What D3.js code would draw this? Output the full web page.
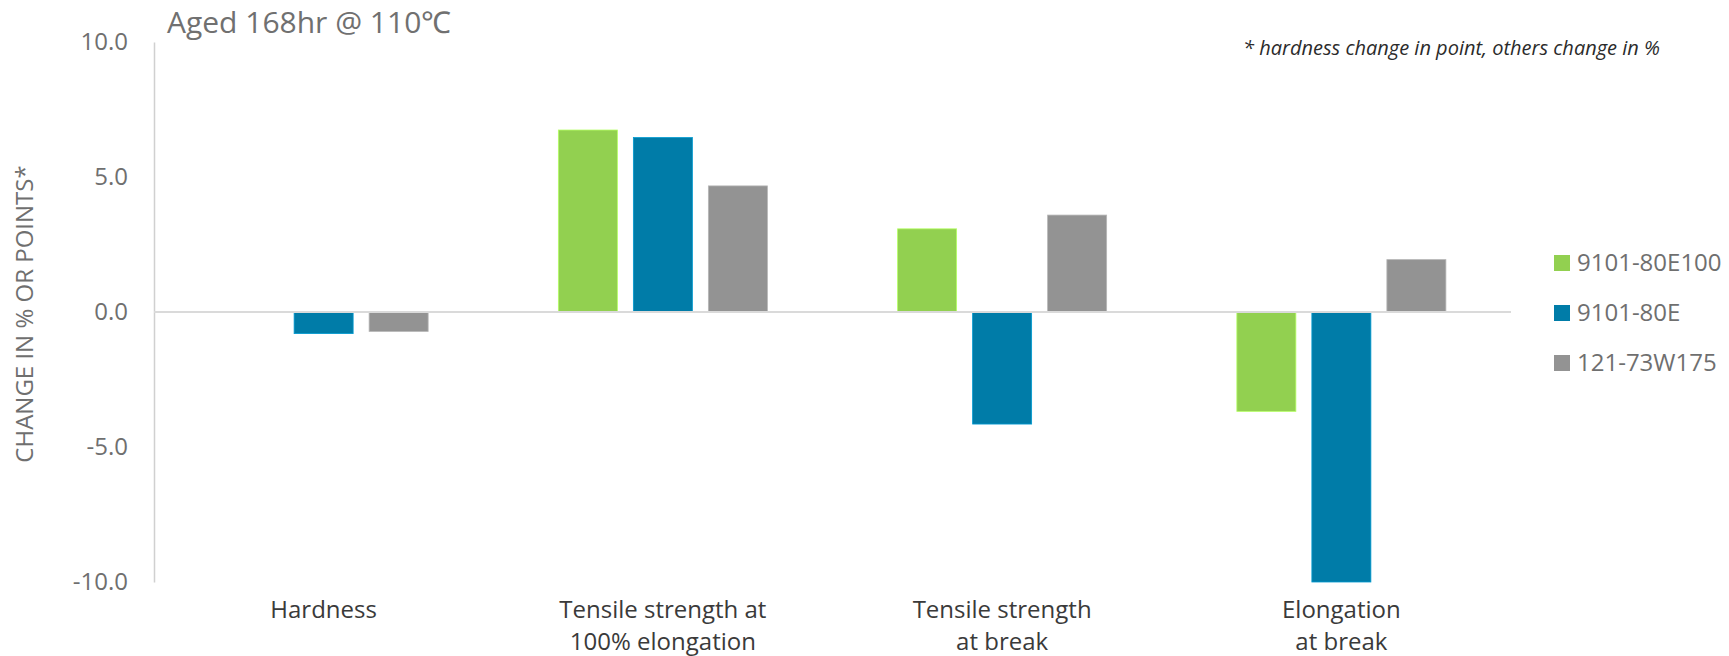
<!DOCTYPE html>
<html>
<head>
<meta charset="utf-8">
<script src="https://cdn.jsdelivr.net/npm/d3@7"></script>
<style>
  html, body { margin: 0; padding: 0; background: #fff; }
  svg { display: block; font-family: "Open Sans", sans-serif; }
</style>
</head>
<body>
<svg id="chart" width="1729" height="656"></svg>
<script>
// Property categories (line breaks mark wrapped labels)
const categories = [
  "Hardness",
  "Tensile strength at\n100% elongation",
  "Tensile strength\nat break",
  "Elongation\nat break"
];
const seriesNames = ["9101-80E100", "9101-80E", "121-73W175"];
const seriesColors = ["#92d050", "#007ca8", "#939393"];

// Change after ageing (hardness in points, others in %)
const values9101_80E100 = [0.0, 6.74, 3.08, -3.68];
const values9101_80E = [-0.80, 6.46, -4.15, -10.0];
const values121_73W175 = [-0.72, 4.67, 3.59, 1.94];

const yTicks = [-10, -5, 0, 5, 10];

const seriesValues = [values9101_80E100, values9101_80E, values121_73W175];
const rows = categories.map((c, i) => ({
  cat: c,
  vals: seriesNames.map((s, j) => ({ series: s, color: seriesColors[j], value: seriesValues[j][i] }))
}));

const svg = d3.select("#chart");
const plot = { left: 154, right: 1511, top: 42, bottom: 582 };

const x0 = d3.scaleBand()
  .domain(categories)
  .range([plot.left, plot.right])
  .paddingInner(0)
  .paddingOuter(0);

const x1 = d3.scaleBand()
  .domain(seriesNames)
  .range([0, x0.bandwidth()])
  .paddingInner(0.2133)
  .paddingOuter(0.868);

const y = d3.scaleLinear()
  .domain([-10, 10])
  .range([plot.bottom, plot.top]);

// Tick labels use a plain hyphen for negatives
const fmt = d3.formatLocale({ decimal: ".", thousands: ",", grouping: [3], currency: ["", ""], minus: "-" }).format(".1f");

// Vertical axis line and tick labels
const yAxis = d3.axisLeft(y)
  .tickValues(yTicks)
  .tickFormat(fmt)
  .tickSize(0)
  .tickPadding(26);

const yg = svg.append("g")
  .attr("transform", `translate(${plot.left},0)`)
  .call(yAxis);
yg.select(".domain").attr("stroke", "#d0d0d0").attr("stroke-width", 1.5);
yg.selectAll(".tick text")
  .attr("fill", "#6f6f6f")
  .style("font-size", "24px")
  .style("font-family", "'Open Sans', sans-serif");

// Bars
const groups = svg.append("g").selectAll("g")
  .data(rows)
  .join("g")
  .attr("transform", d => `translate(${x0(d.cat)},0)`);

groups.selectAll("rect")
  .data(d => d.vals)
  .join("rect")
  .attr("x", d => x1(d.series))
  .attr("width", x1.bandwidth())
  .attr("y", d => y(Math.max(0, d.value)))
  .attr("height", d => Math.abs(y(d.value) - y(0)))
  .attr("fill", d => d.color)
  .attr("stroke", d => d3.color(d.color).brighter(0.6))
  .attr("stroke-width", d => d.value === 0 ? 0 : 0.8);

// Zero baseline
svg.append("line")
  .attr("x1", plot.left)
  .attr("x2", plot.right)
  .attr("y1", y(0))
  .attr("y2", y(0))
  .attr("stroke", "#dadada")
  .attr("stroke-width", 2);

// Category labels under the plot
const xLabels = svg.append("g").selectAll("text")
  .data(categories)
  .join("text")
  .attr("x", d => x0(d) + x0.bandwidth() / 2)
  .attr("y", 618)
  .attr("text-anchor", "middle")
  .attr("fill", "#3a3a3a")
  .style("font-size", "24px");
xLabels.each(function (d) {
  const t = d3.select(this);
  d.split("\n").forEach((line, i) => {
    t.append("tspan")
      .attr("x", x0(d) + x0.bandwidth() / 2)
      .attr("dy", i === 0 ? 0 : 32)
      .text(line);
  });
});

// Y axis title
svg.append("text")
  .attr("transform", `translate(33,${(plot.top + plot.bottom) / 2 + 2}) rotate(-90)`)
  .attr("text-anchor", "middle")
  .attr("fill", "#6f6f6f")
  .style("font-size", "24px")
  .text("CHANGE IN % OR POINTS*");

// Chart title
svg.append("text")
  .attr("x", 167)
  .attr("y", 33)
  .attr("fill", "#707070")
  .style("font-size", "30px")
  .text("Aged 168hr @ 110℃");

// Footnote
svg.append("text")
  .attr("x", 1243)
  .attr("y", 55)
  .attr("fill", "#2b2b2b")
  .style("font-size", "20px")
  .style("font-style", "italic")
  .text("* hardness change in point, others change in %");

// Legend
const legend = svg.append("g")
  .attr("transform", "translate(1554,263)")
  .selectAll("g")
  .data(seriesNames)
  .join("g")
  .attr("transform", (d, i) => `translate(0,${i * 50})`);
legend.append("rect")
  .attr("x", 0)
  .attr("y", -8)
  .attr("width", 16)
  .attr("height", 16)
  .attr("fill", (d, i) => seriesColors[i]);
legend.append("text")
  .attr("x", 23)
  .attr("y", 0)
  .attr("dy", "0.35em")
  .attr("fill", "#6f6f6f")
  .style("font-size", "24px")
  .text(d => d);
</script>
</body>
</html>
